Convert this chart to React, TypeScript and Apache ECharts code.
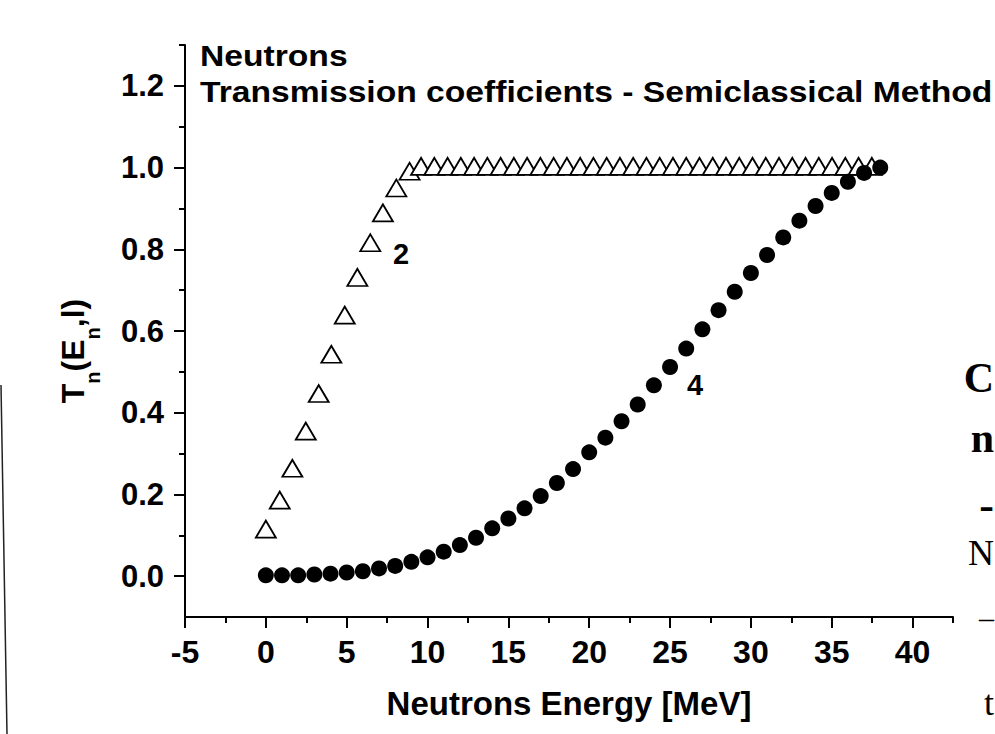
import React, { useEffect, useRef } from "react";
import * as echarts from "echarts";

// ---- data ----
const xTickValues = [-5, 0, 5, 10, 15, 20, 25, 30, 35, 40];
const xMinorTickValues = [-2.5, 2.5, 7.5, 12.5, 17.5, 22.5, 27.5, 32.5, 37.5, 42.5];
const yTickValues = [0, 0.2, 0.4, 0.6, 0.8, 1.0, 1.2];
const yMinorTickValues = [0.1, 0.3, 0.5, 0.7, 0.9, 1.1, 1.3];

// curve "2" (open triangles)
const energy2 = [
  0, 0.86, 1.64, 2.47, 3.27, 4.05, 4.88, 5.66, 6.46, 7.24, 8.07, 8.89,
  9.6, 10.42, 11.24, 12.06, 12.88, 13.7, 14.52, 15.34, 16.16, 16.98, 17.8, 18.62,
  19.44, 20.26, 21.08, 21.9, 22.72, 23.54, 24.36, 25.18, 26.0, 26.82, 27.64, 28.46,
  29.28, 30.1, 30.92, 31.74, 32.56, 33.38, 34.2, 35.02, 35.84, 36.66, 37.48,
];
const trans2 = [
  0.115, 0.186, 0.264, 0.355, 0.447, 0.543, 0.639, 0.731, 0.816, 0.889, 0.95, 0.991,
  1.003, 1.003, 1.003, 1.003, 1.003, 1.003, 1.003, 1.003, 1.003, 1.003, 1.003, 1.003,
  1.003, 1.003, 1.003, 1.003, 1.003, 1.003, 1.003, 1.003, 1.003, 1.003, 1.003, 1.003,
  1.003, 1.003, 1.003, 1.003, 1.003, 1.003, 1.003, 1.003, 1.003, 1.003, 1.003,
];

// curve "4" (filled circles)
const energy4 = [
  0, 1, 2, 3, 4, 5, 6, 7, 8, 9, 10, 11, 12, 13, 14, 15, 16, 17, 18, 19,
  20, 21, 22, 23, 24, 25, 26, 27, 28, 29, 30, 31, 32, 33, 34, 35, 36, 37, 38,
];
const trans4 = [
  0.002, 0.002, 0.002, 0.004, 0.006, 0.009, 0.012, 0.019, 0.025, 0.035,
  0.046, 0.06, 0.076, 0.094, 0.117, 0.141, 0.166, 0.196, 0.228, 0.262,
  0.303, 0.339, 0.379, 0.42, 0.467, 0.512, 0.557, 0.604, 0.651, 0.696,
  0.742, 0.786, 0.829, 0.87, 0.906, 0.938, 0.965, 0.987, 1.0,
];

const SANS = "'Liberation Sans', Arial, Helvetica, sans-serif";
const SERIF = "'Liberation Serif', 'Times New Roman', serif";

export default function App() {
  const ref = useRef<HTMLDivElement>(null);

  useEffect(() => {
    if (!ref.current) return;
    const chart = echarts.init(ref.current, undefined, { renderer: "svg" });

    const axisLine = { show: true, onZero: false, lineStyle: { color: "#000", width: 2 } };
    const labelStyle = {
      color: "#000",
      fontFamily: SANS,
      fontWeight: "bold" as const,
      fontSize: 31,
    };

    const option: any = {
      animation: false,
      backgroundColor: "#fff",
      grid: { left: 185, top: 45, width: 768, height: 572, containLabel: false },
      xAxis: [
        {
          type: "value",
          min: -5,
          max: 42.5,
          position: "bottom",
          axisLine,
          splitLine: { show: false },
          axisTick: {
            show: true,
            inside: false,
            length: 11,
            customValues: xTickValues,
            lineStyle: { color: "#000", width: 2 },
          },
          axisLabel: {
            ...labelStyle,
            fontSize: 32,
            margin: 19,
            customValues: xTickValues,
            formatter: (v: number) => String(v),
          },
          name: "Neutrons Energy [MeV]",
          nameLocation: "middle",
          nameGap: 70,
          nameTextStyle: { ...labelStyle, fontSize: 33 },
        },
        {
          type: "value",
          min: -5,
          max: 42.5,
          position: "bottom",
          axisLine: { show: false, onZero: false },
          splitLine: { show: false },
          axisTick: {
            show: true,
            inside: false,
            length: 6,
            customValues: xMinorTickValues,
            lineStyle: { color: "#000", width: 2 },
          },
          axisLabel: { show: false },
        },
      ],
      yAxis: [
        {
          type: "value",
          min: -0.1,
          max: 1.3,
          position: "left",
          axisLine,
          splitLine: { show: false },
          axisTick: {
            show: true,
            inside: false,
            length: 11,
            customValues: yTickValues,
            lineStyle: { color: "#000", width: 2 },
          },
          axisLabel: {
            ...labelStyle,
            margin: 21,
            customValues: yTickValues,
            formatter: (v: number) => v.toFixed(1),
          },
          name: "{a|T}{s|n}{a|(E}{s|n}{a|,l)}",
          nameLocation: "middle",
          nameGap: 82,
          nameTextStyle: {
            ...labelStyle,
            padding: [0, 40, 0, 0],
            rich: {
              a: {
                fontFamily: SANS,
                fontWeight: "bold",
                fontSize: 32,
                color: "#000",
                verticalAlign: "top",
                padding: [0, 0, 0, 0],
              },
              s: {
                fontFamily: SANS,
                fontWeight: "bold",
                fontSize: 20,
                color: "#000",
                verticalAlign: "top",
                padding: [26, 0, 0, 0],
              },
            },
          },
        },
        {
          type: "value",
          min: -0.1,
          max: 1.3,
          position: "left",
          axisLine: { show: false, onZero: false },
          splitLine: { show: false },
          axisTick: {
            show: true,
            inside: false,
            length: 6,
            customValues: yMinorTickValues,
            lineStyle: { color: "#000", width: 2 },
          },
          axisLabel: { show: false },
        },
      ],
      series: [
        {
          name: "2",
          type: "scatter",
          xAxisIndex: 0,
          yAxisIndex: 0,
          symbol: "triangle",
          symbolSize: [20, 17],
          itemStyle: { color: "#fff", borderColor: "#000", borderWidth: 1.8, opacity: 1 },
          data: energy2.map((e, i) => [e, trans2[i]]),
          z: 2,
        },
        {
          name: "4",
          type: "scatter",
          xAxisIndex: 0,
          yAxisIndex: 0,
          symbol: "circle",
          symbolSize: 16,
          itemStyle: { color: "#000", opacity: 1 },
          data: energy4.map((e, i) => [e, trans4[i]]),
          z: 3,
        },
      ],
      graphic: [
        {
          type: "text",
          left: 200,
          top: 42,
          style: { text: "Neutrons", fill: "#000", font: `bold 29px ${SANS}` },
          scaleX: 1.16,
        },
        {
          type: "text",
          left: 200,
          top: 78,
          style: {
            text: "Transmission coefficients - Semiclassical Method",
            fill: "#000",
            font: `bold 29px ${SANS}`,
          },
          scaleX: 1.16,
        },
        {
          type: "text",
          x: 401,
          y: 254,
          style: { text: "2", fill: "#000", font: `bold 29px ${SANS}`, align: "center", verticalAlign: "middle" },
        },
        {
          type: "text",
          x: 695,
          y: 385,
          style: { text: "4", fill: "#000", font: `bold 29px ${SANS}`, align: "center", verticalAlign: "middle" },
        },
        // neighbouring slide fragments at the right edge
        { type: "text", x: 994, y: 378, style: { text: "C", fill: "#000", font: `bold 42px ${SERIF}`, align: "right", verticalAlign: "middle" } },
        { type: "text", x: 994, y: 438, style: { text: "n", fill: "#000", font: `bold 42px ${SERIF}`, align: "right", verticalAlign: "middle" } },
        { type: "text", x: 994, y: 505, style: { text: "-", fill: "#000", font: `bold 44px ${SERIF}`, align: "right", verticalAlign: "middle" } },
        { type: "text", x: 994, y: 553, style: { text: "N", fill: "#000", font: `36px ${SERIF}`, align: "right", verticalAlign: "middle" } },
        { type: "text", x: 994, y: 607, style: { text: "_", fill: "#000", font: `30px ${SERIF}`, align: "right", verticalAlign: "middle" } },
        { type: "text", x: 994, y: 703, style: { text: "t", fill: "#000", font: `36px ${SERIF}`, align: "right", verticalAlign: "middle" } },
        // thin slanted line at the left edge
        {
          type: "line",
          shape: { x1: 1, y1: 385, x2: 7, y2: 734 },
          style: { stroke: "#222", lineWidth: 1.5 },
        },
      ],
    };

    chart.setOption(option);
    return () => chart.dispose();
  }, []);

  return (
    <div
      ref={ref}
      style={{ position: "fixed", left: 0, top: 0, width: 995, height: 734, background: "#fff" }}
    />
  );
}
